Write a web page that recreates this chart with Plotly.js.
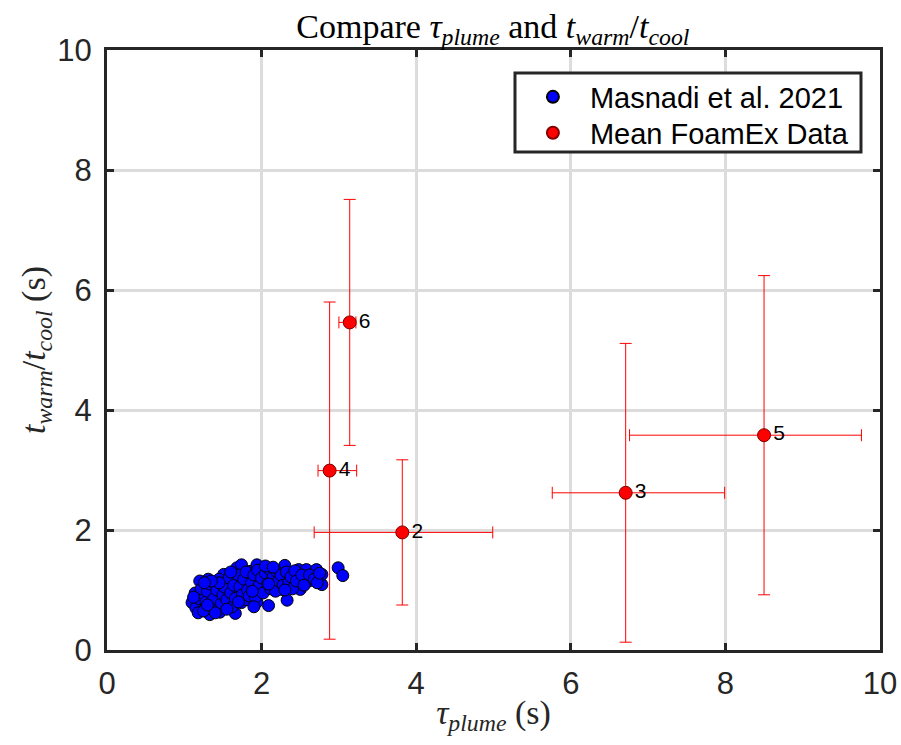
<!DOCTYPE html>
<html>
<head>
<meta charset="utf-8">
<script src="https://cdn.plot.ly/plotly-3.0.1.min.js"></script>
<style>html,body{margin:0;padding:0;background:#fff;}#plot{width:901px;height:745px;}</style>
</head>
<body>
<div id="plot"></div>
<script>
// Masnadi et al. 2021 (blue cluster)
const masX = [1.10,1.14,1.20,1.31,1.25,1.27,1.40,1.42,1.51,1.40,1.33,1.46,1.66,1.57,1.70,1.74,1.81,1.94,1.92,2.09,
  2.33,2.50,2.26,2.17,2.33,2.48,2.61,2.78,2.65,1.87,2.02,2.13,1.81,1.66,1.68,1.85,1.74,1.94,2.04,2.30,
  2.48,2.58,2.71,2.99,3.05,2.78,
  1.15,1.20,1.22,1.28,1.30,1.33,1.35,1.38,1.42,1.45,1.48,1.50,1.52,1.55,1.58,1.60,1.62,1.64,1.66,1.70,
  1.72,1.75,1.77,1.80,1.82,1.84,1.87,1.90,1.92,1.95,1.97,2.00,2.02,2.05,2.08,2.10,2.12,2.15,2.18,2.20,
  2.22,2.25,2.28,2.32,2.35,2.38,2.40,2.43,2.45,2.52,2.55,2.62,2.68,2.72,2.75,1.12,1.18,1.25,1.40,1.55,
  1.70,1.88,2.05,2.15,1.60,1.45,1.35,1.26,1.90,1.30,2.09,2.30];
const masY = [0.79,0.95,1.15,1.18,0.92,0.72,0.76,0.90,1.26,1.09,0.59,0.63,0.61,1.06,0.95,0.79,0.84,0.80,1.01,0.74,
  0.83,1.01,1.01,1.12,1.20,1.29,1.15,1.09,1.30,1.23,1.17,1.29,1.12,1.15,1.37,1.31,1.42,1.42,1.37,1.41,
  1.34,1.34,1.34,1.37,1.24,1.26,
  0.70,0.85,1.02,0.80,0.98,1.10,0.70,0.85,1.00,1.18,0.78,0.92,1.05,0.84,1.20,0.95,0.72,1.08,0.86,1.25,
  1.05,0.92,1.18,1.30,1.00,0.90,1.12,1.25,0.88,1.33,1.08,1.20,0.95,1.28,1.10,1.35,1.02,1.22,0.98,1.30,
  1.15,1.25,1.08,1.30,1.12,1.22,1.02,1.32,1.15,1.25,1.08,1.25,1.18,1.12,1.28,0.88,0.62,0.65,0.62,0.68,
  0.80,0.98,1.40,1.38,1.30,1.12,1.15,1.12,0.72,0.75,1.10,1.00];

// Mean FoamEx Data (red points with error bars)
const foamLabels = ["2","3","4","5","6"];
const foamX = [3.82, 6.71, 2.88, 8.50, 3.14];
const foamY = [1.96, 2.62, 2.99, 3.58, 5.46];
const foamXerrMinus = [1.14, 0.95, 0.15, 1.74, 0.14];
const foamXerrPlus  = [1.17, 1.28, 0.35, 1.26, 0.08];
const foamYerr = [1.21, 2.49, 2.81, 2.66, 2.05];

const tickVals = [0,2,4,6,8,10];
const tickText = ["0","2","4","6","8","10"];

const traces = [
  {
    x: masX, y: masY, type: 'scatter', mode: 'markers',
    name: 'Masnadi et al. 2021', legend: 'legend',
    marker: {color: '#0000ff', size: 12, line: {color: '#000000', width: 1}}
  },
  {
    x: foamX, y: foamY, type: 'scatter', mode: 'markers+text',
    name: 'Mean FoamEx Data', legend: 'legend2',
    text: foamLabels, textposition: 'middle right',
    textfont: {family: 'Liberation Sans, Arial, sans-serif', size: 21, color: '#000000'},
    marker: {color: '#ff0000', size: 13, line: {color: '#800000', width: 1}},
    error_x: {type: 'data', symmetric: false, array: foamXerrPlus, arrayminus: foamXerrMinus,
              color: '#ff0000', thickness: 1, width: 6},
    error_y: {type: 'data', array: foamYerr, color: '#ff0000', thickness: 1, width: 6}
  }
];

const axisCommon = {
  range: [0, 10], tickvals: tickVals, ticktext: tickText,
  showgrid: true, gridcolor: '#dcdcdc', gridwidth: 3,
  zeroline: false, showline: true, linecolor: '#262626', linewidth: 3, mirror: 'ticks',
  ticks: 'inside', ticklen: 7, tickwidth: 3, tickcolor: '#262626',
  tickfont: {family: 'Liberation Sans, Arial, sans-serif', size: 31, color: '#262626'},
  automargin: false
};

const legendCommon = {
  x: 0.529, xanchor: 'left', yanchor: 'middle',
  bgcolor: 'rgba(0,0,0,0)', borderwidth: 0,
  font: {family: 'Liberation Sans, Arial, sans-serif', size: 29, color: '#000000'},
  itemsizing: 'constant', itemwidth: 64
};

const layout = {
  width: 901, height: 745,
  margin: {l: 107, r: 21, t: 50, b: 95},
  paper_bgcolor: '#ffffff', plot_bgcolor: '#ffffff',
  title: {
    text: 'Compare <i>τ</i><sub><i>plume</i></sub> and <i>t</i><sub><i>warm</i></sub>/<i>t</i><sub><i>cool</i></sub>',
    font: {family: 'Liberation Serif, DejaVu Serif, serif', size: 34, color: '#000000'},
    x: 0.547, xanchor: 'center', y: 0.965, yanchor: 'middle', yref: 'container'
  },
  xaxis: Object.assign({}, axisCommon, {
    ticklabelstandoff: 4,
    title: {text: '<i>τ</i><sub><i>plume</i></sub> (s)', standoff: 0,
            font: {family: 'Liberation Serif, DejaVu Serif, serif', size: 34, color: '#262626'}}
  }),
  yaxis: Object.assign({}, axisCommon, {
    ticklabelstandoff: 6,
    title: {text: '<i>t</i><sub><i>warm</i></sub>/<i>t</i><sub><i>cool</i></sub> (s)', standoff: 2,
            font: {family: 'Liberation Serif, DejaVu Serif, serif', size: 34, color: '#262626'}}
  }),
  showlegend: true,
  legend: Object.assign({}, legendCommon, {y: 0.9217}),
  legend2: Object.assign({}, legendCommon, {y: 0.8618}),
  shapes: [{
    type: 'rect', xref: 'paper', yref: 'paper', layer: 'above',
    x0: 0.5278, x1: 0.9754, y0: 0.8301, y1: 0.9617,
    line: {color: '#262626', width: 3}, fillcolor: '#ffffff'
  }]
};

Plotly.newPlot('plot', traces, layout, {displayModeBar: false, staticPlot: true});
</script>
</body>
</html>
